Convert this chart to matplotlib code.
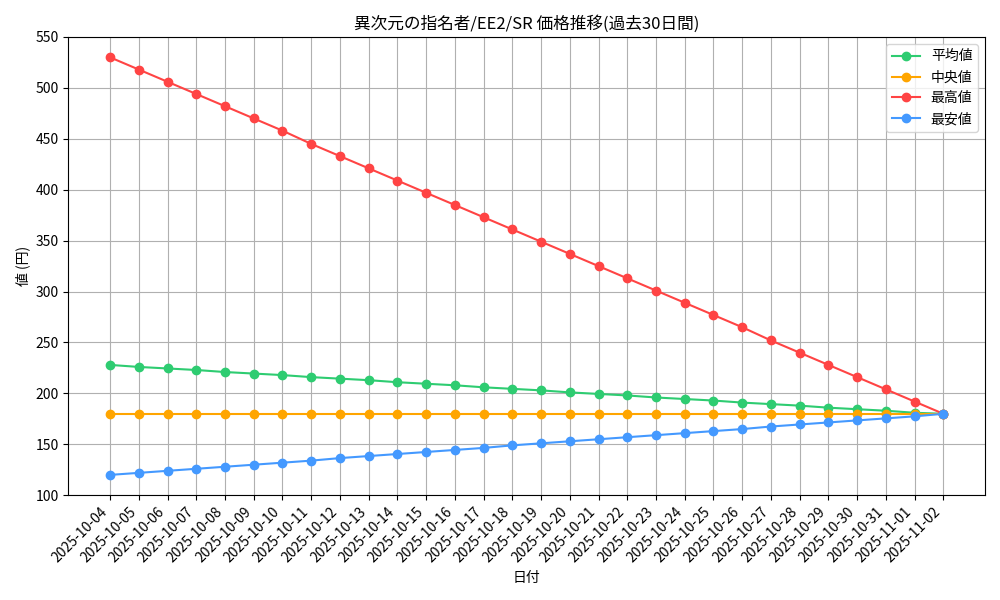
import matplotlib
matplotlib.use('Agg')
import matplotlib.pyplot as plt

plt.rcParams['font.family'] = ['Noto Sans CJK JP', 'DejaVu Sans']

dates = ['2025-10-04', '2025-10-05', '2025-10-06', '2025-10-07', '2025-10-08', '2025-10-09',
         '2025-10-10', '2025-10-11', '2025-10-12', '2025-10-13', '2025-10-14', '2025-10-15',
         '2025-10-16', '2025-10-17', '2025-10-18', '2025-10-19', '2025-10-20', '2025-10-21',
         '2025-10-22', '2025-10-23', '2025-10-24', '2025-10-25', '2025-10-26', '2025-10-27',
         '2025-10-28', '2025-10-29', '2025-10-30', '2025-10-31', '2025-11-01', '2025-11-02']
avg_price = [228, 226, 224.5, 223, 221, 219.5, 218, 216, 214.5, 213, 211, 209.5, 208, 206, 204.5,
             203, 201, 199.5, 198, 196, 194.5, 193, 191, 189.5, 188, 186, 184.5, 183, 181, 180]
median_price = [180] * 30
max_price = [530, 518, 506, 494, 482, 470, 458, 445, 433, 421, 409, 397, 385, 373, 361,
             349, 337, 325, 313, 301, 289, 277, 265, 252, 240, 228, 216, 204, 192, 180]
min_price = [120, 122, 124, 126, 128, 130, 132, 134, 136.5, 138.5, 140.5, 142.5, 144.5, 146.5, 149,
             151, 153, 155, 157, 159, 161, 163, 165, 167.5, 169.5, 171.5, 173.5, 175.5, 177.5, 180]

fig, ax = plt.subplots(figsize=(10, 6), dpi=100)
ax.plot(dates, avg_price, marker='o', color='#2ecc71', label='平均値')
ax.plot(dates, median_price, marker='o', color='#ffa500', label='中央値')
ax.plot(dates, max_price, marker='o', color='#ff4444', label='最高値')
ax.plot(dates, min_price, marker='o', color='#4499ff', label='最安値')
ax.set_title('異次元の指名者/EE2/SR 価格推移(過去30日間)')
ax.set_xlabel('日付')
ax.set_ylabel('値 (円)')
ax.set_ylim(100, 550)
ax.grid(True)
ax.legend(loc='upper right')
plt.xticks(rotation=45, ha='right')
plt.tight_layout()
plt.savefig('out.png')
